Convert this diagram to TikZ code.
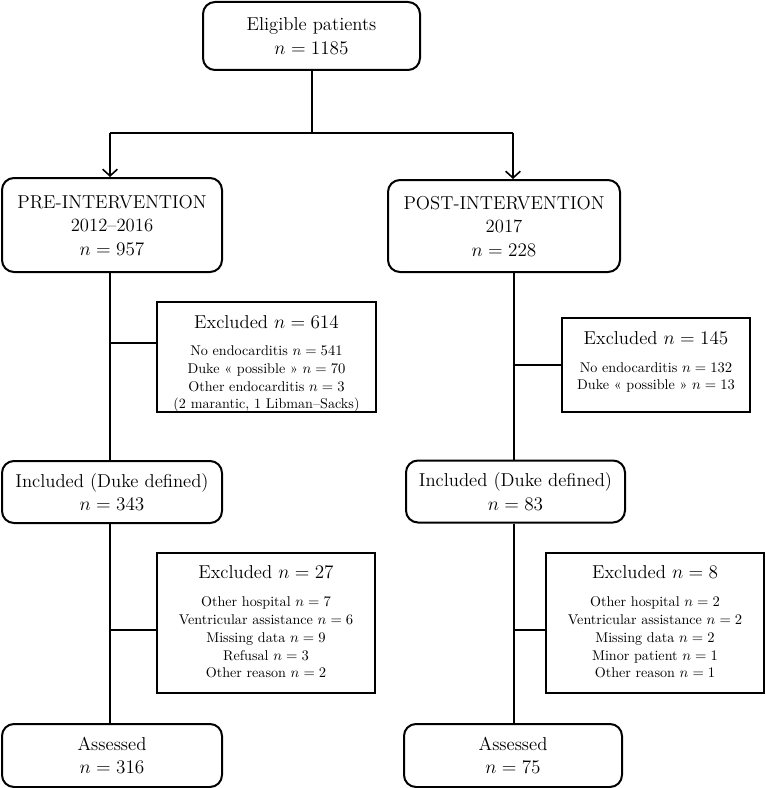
\documentclass[tikz,border=0pt]{standalone}
\usepackage{fontspec}
\usetikzlibrary{arrows.meta}
\newcommand{\bigf}{\fontsize{14}{17.6}\selectfont}
\newcommand{\smf}{\fontsize{10.6}{13.3}\selectfont}
\tikzset{
  rbox/.style={draw, line width=1.5pt, rounded corners=9pt, align=center, font=\bigf, inner sep=0pt},
  exbox/.style={draw, line width=1.5pt, inner sep=0pt},
  conn/.style={line width=1.5pt},
  arr/.style={line width=1.5pt, -{Straight Barb[length=5pt,width=11pt,line width=1.2pt]}}
}
\begin{document}
\begin{tikzpicture}[x=0.75pt,y=-0.75pt]
\useasboundingbox (0,0) rectangle (766,788);
% rounded boxes
\node[rbox, minimum width=162.75pt, minimum height=51pt] (elig) at (311.5,36) {Eligible patients\\$n = 1185$};
\node[rbox, minimum width=165pt, minimum height=70.5pt] (pre) at (112,225) {PRE-INTERVENTION\\2012--2016\\$n = 957$};
\node[rbox, minimum width=174pt, minimum height=69pt] (post) at (504,226) {POST-INTERVENTION\\2017\\$n = 228$};
\node[rbox, minimum width=165pt, minimum height=46.5pt] (incL) at (112,492) {Included (Duke defined)\\$n = 343$};
\node[rbox, minimum width=164.25pt, minimum height=46.5pt] (incR) at (515.5,491.5) {Included (Duke defined)\\$n = 83$};
\node[rbox, minimum width=165pt, minimum height=47.25pt] (assL) at (112,755.5) {Assessed\\$n = 316$};
\node[rbox, minimum width=163.5pt, minimum height=47.25pt] (assR) at (513,755.5) {Assessed\\$n = 75$};
% exclusion boxes
\node[exbox, minimum width=164.25pt, minimum height=82.5pt] (ex1) at (266.5,357) {};
\node[exbox, minimum width=141pt, minimum height=70.5pt] (ex2) at (656,365) {};
\node[exbox, minimum width=163.5pt, minimum height=105pt] (ex3) at (266,623) {};
\node[exbox, minimum width=163.5pt, minimum height=105pt] (ex4) at (655,623) {};
% exclusion texts
\node[font=\bigf] (ex1h) at (266.5,322) {Excluded $n = 614$};
\node[font=\smf, align=center] (ex1t) at (266.5,379) {No endocarditis $n = 541$\\Duke « possible » $n = 70$\\Other endocarditis $n = 3$\\(2 marantic, 1 Libman--Sacks)};
\node[font=\bigf] (ex2h) at (656,338.5) {Excluded $n = 145$};
\node[font=\smf, align=center] (ex2t) at (656,377.5) {No endocarditis $n = 132$\\Duke « possible » $n = 13$};
\node[font=\bigf] (ex3h) at (266,572) {Excluded $n = 27$};
\node[font=\smf, align=center] (ex3t) at (266,637.5) {Other hospital $n = 7$\\Ventricular assistance $n = 6$\\Missing data $n = 9$\\Refusal $n = 3$\\Other reason $n = 2$};
\node[font=\bigf] (ex4h) at (655,572) {Excluded $n = 8$};
\node[font=\smf, align=center] (ex4t) at (655,637.5) {Other hospital $n = 2$\\Ventricular assistance $n = 2$\\Missing data $n = 2$\\Minor patient $n = 1$\\Other reason $n = 1$};
% connectors
\coordinate (j0) at (311.5,133);
\coordinate (jl) at (110,133);
\coordinate (jr) at (513,133);
\draw[conn] (elig.south) -- (j0);
\draw[conn] (jl) -- (jr);
\draw[arr] (jl) -- (jl |- pre.north);
\draw[arr] (jr) -- (jr |- post.north);
\coordinate (cL) at (110,0);
\coordinate (cR) at (514,0);
\draw[conn] (cL |- pre.south) -- (cL |- incL.north);
\draw[conn] (cR |- post.south) -- (cR |- incR.north);
\draw[conn] ([yshift=10.5pt]cL |- ex1.west) -- ([yshift=10.5pt]ex1.west);
\draw[conn] (cR |- ex2.west) -- (ex2.west);
\draw[conn] (cL |- incL.south) -- (cL |- assL.north);
\draw[conn] (cR |- incR.south) -- (cR |- assR.north);
\draw[conn] ([yshift=-5.25pt]cL |- ex3.west) -- ([yshift=-5.25pt]ex3.west);
\draw[conn] ([yshift=-5.25pt]cR |- ex4.west) -- ([yshift=-5.25pt]ex4.west);
\end{tikzpicture}
\end{document}
